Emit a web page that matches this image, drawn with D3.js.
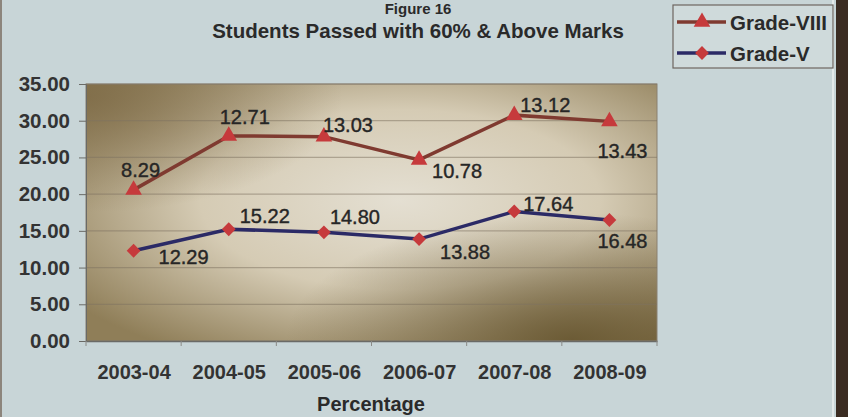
<!DOCTYPE html>
<html>
<head>
<meta charset="utf-8">
<script src="https://cdn.jsdelivr.net/npm/d3@7"></script>
<style>
  body { margin: 0; background: #c8d5d7; }
  svg { display: block; font-family: "Liberation Sans", Arial, sans-serif; }
</style>
</head>
<body>
<svg id="chart"></svg>
<script>
const years = ["2003-04", "2004-05", "2005-06", "2006-07", "2007-08", "2008-09"]
const gradeV = [12.29, 15.22, 14.80, 13.88, 17.64, 16.48]
const gradeVIII = [8.29, 12.71, 13.03, 10.78, 13.12, 13.43]
const yTicks = [0, 5, 10, 15, 20, 25, 30, 35]

// where each value label sits relative to its marker
const offV = [[50, 6], [36, -13], [31, -15], [46, 13], [34, -7], [13, 21]]
const offVIII = [[7, -20], [16, -19], [24, -12], [38, 11], [31, -10], [13, 30]]

let w = 848, h = 417
let svg = d3.select("#chart").attr("width", w).attr("height", h)

let x = d3.scalePoint().domain(years).range([86, 657]).padding(0.5)
let y = d3.scaleLinear().domain([0, 35]).range([341, 84])

let defs = svg.append("defs")
function radial(id, cx, cy, r, stops) {
    let g = defs.append("radialGradient").attr("id", id)
        .attr("cx", cx).attr("cy", cy).attr("r", r)
    stops.forEach(s => g.append("stop").attr("offset", s[0])
        .attr("stop-color", s[1]).attr("stop-opacity", s[2]))
}
radial("bgMain", 0.55, 0.45, 0.7, [[0, "#e4dfd2", 1], [0.5, "#d5cbb4", 1], [1, "#8f7e58", 1]])
radial("darkBR", 0.85, 1.0, 0.5, [[0, "#66552f", 0.9], [1, "#66552f", 0]])
radial("darkTL", 0.0, 0.05, 0.45, [[0, "#7f6c48", 0.85], [1, "#7f6c48", 0]])

// page edges
svg.append("rect").attr("x", 0).attr("y", 0).attr("width", w).attr("height", h).attr("fill", "#c8d5d7")
svg.append("rect").attr("x", 0).attr("y", 0).attr("width", 2).attr("height", h).attr("fill", "#8c857c")
svg.append("rect").attr("x", 836).attr("y", 0).attr("width", 12).attr("height", h).attr("fill", "#3b2c22")
svg.append("rect").attr("x", 832).attr("y", 0).attr("width", 2).attr("height", h).attr("fill", "#e4eaea")

// plot area
let px = x.range()[0], pw = x.range()[1] - px
let py = y(35), ph = y(0) - y(35)
svg.append("rect").attr("x", px).attr("y", py).attr("width", pw).attr("height", ph).attr("fill", "url(#bgMain)")
svg.append("rect").attr("x", px).attr("y", py).attr("width", pw).attr("height", ph).attr("fill", "url(#darkBR)")
svg.append("rect").attr("x", px).attr("y", py).attr("width", pw).attr("height", ph).attr("fill", "url(#darkTL)")
svg.append("rect").attr("x", px).attr("y", py).attr("width", pw).attr("height", ph)
    .attr("fill", "none").attr("stroke", "#8a8070").attr("stroke-width", 1)

// gridlines
svg.append("g").selectAll("line").data(yTicks.slice(1)).enter().append("line")
    .attr("x1", px).attr("x2", px + pw)
    .attr("y1", d => y(d)).attr("y2", d => y(d))
    .attr("stroke", "#7d7260").attr("stroke-opacity", 0.5).attr("stroke-width", 1.2)

// axes
let yAxis = svg.append("g").attr("transform", "translate(" + px + ",0)")
    .call(d3.axisLeft(y).tickValues(yTicks).tickFormat(d3.format(".2f")).tickSize(7).tickPadding(9))
yAxis.select(".domain").attr("stroke", "#6a6a66")
yAxis.selectAll(".tick line").attr("stroke", "#6a6a66")
yAxis.selectAll("text").attr("fill", "#333").attr("font-size", 20.5).attr("font-weight", "bold")
    .attr("font-family", "Liberation Sans, Arial, sans-serif")

let xAxis = svg.append("g").attr("transform", "translate(0," + y(0) + ")")
    .call(d3.axisBottom(x).tickSize(0).tickPadding(24))
xAxis.select(".domain").attr("stroke", "#6a6a66").attr("stroke-width", 1.5)
xAxis.selectAll("text").attr("fill", "#333").attr("font-size", 20).attr("font-weight", "bold")
    .attr("font-family", "Liberation Sans, Arial, sans-serif")

// small ticks between categories
let bounds = d3.range(years.length + 1).map(i => px + i * pw / years.length)
svg.append("g").selectAll("line").data(bounds).enter().append("line")
    .attr("x1", d => d).attr("x2", d => d).attr("y1", y(0)).attr("y2", y(0) + 5)
    .attr("stroke", "#8a8a86").attr("stroke-width", 1)

// series (Grade-VIII drawn stacked on Grade-V)
let stackedVIII = gradeVIII.map((v, i) => v + gradeV[i])
let line = d3.line().x((d, i) => x(years[i])).y(d => y(d))

svg.append("path").datum(stackedVIII).attr("d", line)
    .attr("fill", "none").attr("stroke", "#7f3a30").attr("stroke-width", 3.5)
svg.append("path").datum(gradeV).attr("d", line)
    .attr("fill", "none").attr("stroke", "#2b2a66").attr("stroke-width", 3.5)

let tri = d3.symbol().type(d3.symbolTriangle).size(120)
let dia = d3.symbol().type(d3.symbolSquare).size(95)

svg.append("g").selectAll("path").data(stackedVIII).enter().append("path")
    .attr("d", tri)
    .attr("transform", (d, i) => "translate(" + x(years[i]) + "," + y(d) + ")")
    .attr("fill", "#c63a3c")
svg.append("g").selectAll("path").data(gradeV).enter().append("path")
    .attr("d", dia)
    .attr("transform", (d, i) => "translate(" + x(years[i]) + "," + y(d) + ") rotate(45)")
    .attr("fill", "#c63a3c")

// value labels
function labels(vals, pos, offs) {
    svg.append("g").selectAll("text").data(vals).enter().append("text")
        .attr("x", (d, i) => x(years[i]) + offs[i][0])
        .attr("y", (d, i) => y(pos[i]) + offs[i][1])
        .attr("text-anchor", "middle").attr("dominant-baseline", "central")
        .attr("font-size", 20).attr("fill", "#262626")
        .attr("stroke", "#262626").attr("stroke-width", 0.4)
        .text(d => d.toFixed(2))
}
labels(gradeVIII, stackedVIII, offVIII)
labels(gradeV, gradeV, offV)

// titles
svg.append("text").attr("x", 418).attr("y", 14).attr("text-anchor", "middle")
    .attr("font-size", 15).attr("font-weight", "bold").attr("fill", "#2a2a2a").text("Figure 16")
svg.append("text").attr("x", 418).attr("y", 38).attr("text-anchor", "middle")
    .attr("font-size", 20.5).attr("font-weight", "bold").attr("fill", "#2a2a2a").text("Students Passed with 60% & Above Marks")
svg.append("text").attr("x", 371).attr("y", 411).attr("text-anchor", "middle")
    .attr("font-size", 20).attr("font-weight", "bold").attr("fill", "#2a2a2a").text("Percentage")

// legend
let legend = svg.append("g")
legend.append("rect").attr("x", 673).attr("y", 5).attr("width", 160).attr("height", 63)
    .attr("fill", "#cfdadb").attr("stroke", "#6e6660").attr("stroke-width", 1.2)
let legendItems = [
    { name: "Grade-VIII", color: "#7f3a30", sym: tri, rot: 0 },
    { name: "Grade-V", color: "#2b2a66", sym: dia, rot: 45 }
]
legendItems.forEach((d, i) => {
    let ly = 22 + i * 31
    legend.append("line").attr("x1", 677).attr("x2", 726).attr("y1", ly).attr("y2", ly)
        .attr("stroke", d.color).attr("stroke-width", 3.5)
    legend.append("path").attr("d", d.sym)
        .attr("transform", "translate(702," + ly + ") rotate(" + d.rot + ")").attr("fill", "#c63a3c")
    legend.append("text").attr("x", 730).attr("y", ly).attr("dominant-baseline", "central")
        .attr("font-size", 20.5).attr("font-weight", "bold").attr("fill", "#2a2a2a").text(d.name)
})
</script>
</body>
</html>
